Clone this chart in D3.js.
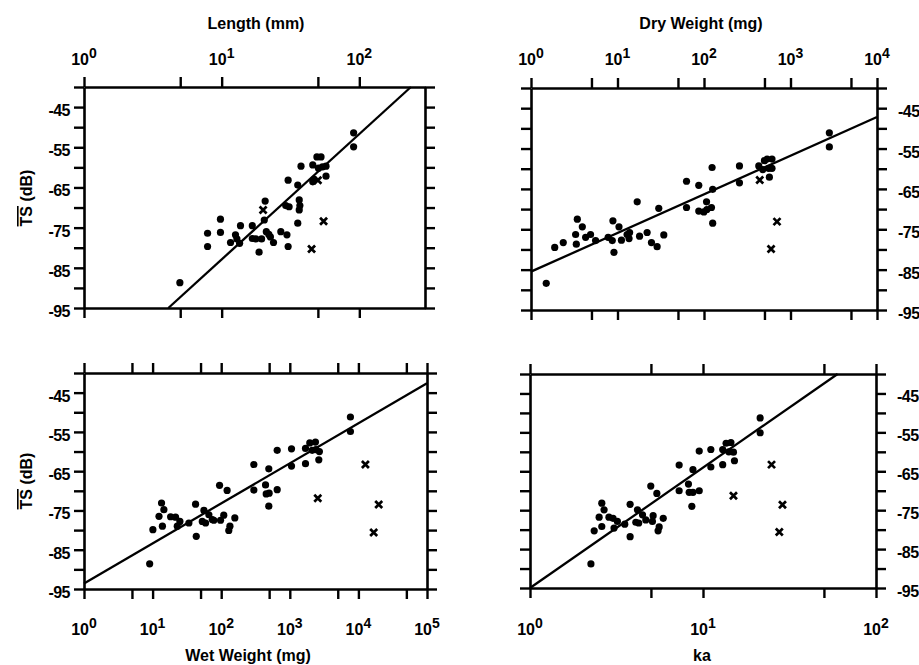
<!DOCTYPE html>
<html>
<head>
<meta charset="utf-8">
<style>
body { margin: 0; background: #fff; }
svg text { font-family: "Liberation Sans", Arial, sans-serif; font-weight: bold; fill: #000; }
</style>
</head>
<body>
<script src="https://d3js.org/d3.v7.min.js"></script>
<script>
// ---- data ----
// TS (dB) axis, shared by all four panels
var tsTicks = [-95, -90, -85, -80, -75, -70, -65, -60, -55, -50, -45, -40];
var tsLabels = [-95, -85, -75, -65, -55, -45];

// Length (mm)
var lengthTicks = [1, 5, 10, 50, 100];
var lengthLabels = [1, 10, 100];
var lengthX  = [4.97, 7.9, 7.9, 9.8, 9.8, 11.6, 12.6, 12.9, 13.7, 13.5, 16.7, 16.7, 17.7, 18.7, 19.5, 20.4, 20.7, 21.1, 22, 22.6, 23.8, 26.9, 29.2, 29.8, 30.4, 30.4, 30.9, 35.7, 35.7, 36.6, 36.6, 37, 37.7, 45.9, 45.9, 47, 49.2, 50.5, 52.7, 54, 57.3, 57.3, 90.9, 90.9];
var lengthTS = [-88.7, -76.4, -79.7, -72.9, -76.2, -78.7, -76.8, -77.8, -74.5, -78.9, -74.5, -77.7, -77.8, -81.1, -77.8, -73.1, -68.4, -76, -76.7, -77.3, -78.7, -76, -69.5, -76.8, -79.7, -63.2, -69.8, -73.9, -64.4, -68.1, -70.6, -69.5, -59.7, -63.6, -59.4, -63, -57.4, -60.2, -57.4, -59.9, -62.2, -59.7, -51.4, -54.9];
var lengthCrossX  = [20, 55, 45, 50];
var lengthCrossTS = [-70.6, -73.4, -80.3, -63.2];
var lengthFit = [[4.1, -95], [237, -40]];

// Dry weight (mg)
var dryTicks = [1, 5, 10, 50, 100, 500, 1000, 5000, 10000];
var dryLabels = [1, 10, 100, 1000, 10000];
var dryX  = [1.5, 1.88, 2.36, 3.34, 3.28, 3.43, 3.92, 4.28, 4.88, 5.58, 7.8, 8.7, 8.85, 9.1, 10.4, 11.1, 12.9, 13.8, 13.6, 16.9, 18, 22, 24.7, 28.7, 30, 34.3, 62.8, 62.8, 87, 87, 99.6, 107, 108, 122, 124, 126, 126, 257, 257, 430, 478, 500, 537, 560, 611, 611, 570, 2812, 2812];
var dryTS = [-88.4, -79.5, -78.3, -78.7, -76.3, -72.5, -74.4, -77, -76.3, -77.8, -77, -77.8, -72.9, -80.7, -74.4, -77.7, -76.3, -75.8, -77.3, -68.2, -76.7, -75.8, -78.3, -79.3, -69.8, -76.4, -63.1, -69.6, -64.1, -70.5, -70.7, -68.2, -70.1, -69.6, -59.7, -65.1, -73.5, -59.3, -63.5, -59.3, -60.2, -58, -57.6, -59.9, -57.6, -59.9, -62.1, -51.1, -54.6];
var dryCrossX  = [441, 596, 698];
var dryCrossTS = [-62.8, -79.9, -73.1];
var dryFit = [[1, -85.5], [10000, -47.2]];

// Wet weight (mg)
var wetTicks = [1, 5, 10, 50, 100, 500, 1000, 5000, 10000, 50000, 100000];
var wetLabels = [1, 10, 100, 1000, 10000, 100000];
var wetX  = [9.06, 10.1, 12.4, 13.5, 14.6, 13.9, 18.3, 21.6, 22.9, 25, 33.8, 42.3, 43.3, 53, 56, 59.2, 66.1, 74.1, 78, 94.6, 97.8, 109, 122, 129, 134, 158, 299, 299, 443, 453, 494, 500, 494, 655, 655, 1059, 1059, 1694, 1694, 1955, 2120, 2366, 2400, 2647, 2700, 7650, 7650];
var wetTS = [-88.6, -79.9, -76.5, -73.1, -74.8, -79, -76.6, -76.7, -79, -77.8, -78.2, -73.4, -81.6, -77.8, -75, -78.2, -76.1, -77.3, -77.5, -68.6, -77.5, -76.2, -69.9, -80.1, -79, -76.9, -63.3, -69.8, -68.5, -70.8, -73.9, -70.6, -64.4, -59.7, -69.7, -59.3, -63.7, -63.1, -59.2, -57.8, -59.7, -57.6, -59.5, -62.1, -60, -51.2, -54.9];
var wetCrossX  = [2557, 12650, 19770, 16700];
var wetCrossTS = [-71.9, -63.3, -73.5, -80.6];
var wetFit = [[1, -93.6], [100000, -42.6]];

// ka
var kaTicks = [1, 5, 10, 50, 100];
var kaLabels = [1, 10, 100];
var kaX  = [2.25, 2.35, 2.51, 2.6, 2.68, 2.6, 2.86, 3.02, 3.06, 3.2, 3.53, 3.79, 3.79, 4.09, 4.18, 4.25, 4.47, 4.67, 4.99, 5.1, 5.15, 5.41, 5.5, 5.58, 5.89, 7.28, 7.28, 8.24, 8.32, 8.62, 8.75, 8.75, 9.51, 9.51, 11.1, 11.1, 13, 13, 13.6, 14.1, 14.5, 15, 15.2, 21.4, 21.4];
var kaTS = [-88.8, -80.3, -76.8, -73.2, -74.9, -79.2, -76.8, -77.1, -79.6, -77.9, -78.6, -73.5, -81.8, -78.1, -74.9, -78.3, -76.2, -77.5, -68.8, -77.9, -76.4, -70.7, -80.3, -79.3, -77.1, -63.4, -70, -68.3, -70.4, -74, -70.4, -64.6, -59.8, -70, -59.4, -63.9, -63.3, -59.4, -57.8, -60, -57.6, -60.1, -62.3, -51.3, -55.1];
var kaCrossX  = [15, 24.9, 28.8, 27.6];
var kaCrossTS = [-71.3, -63.3, -73.6, -80.6];
var kaFit = [[1, -95], [60, -40]];

// ---- panel layout ----
var panels = [
  { left: 84, right: 425, top: 87, bottom: 308, domain: [1, 300], ticks: lengthTicks, labels: lengthLabels,
    labelSide: "top", title: "Length (mm)", titleX: 256, ySide: "left", yTitle: 198,
    x: lengthX, ts: lengthTS, cx: lengthCrossX, cts: lengthCrossTS, fit: lengthFit },
  { left: 531, right: 877, top: 88, bottom: 310, domain: [1, 10000], ticks: dryTicks, labels: dryLabels,
    labelSide: "top", title: "Dry Weight (mg)", titleX: 701, ySide: "right",
    x: dryX, ts: dryTS, cx: dryCrossX, cts: dryCrossTS, fit: dryFit },
  { left: 84, right: 427, top: 373, bottom: 589, domain: [1, 100000], ticks: wetTicks, labels: wetLabels,
    labelSide: "bottom", title: "Wet Weight (mg)", titleX: 248, ySide: "left", yTitle: 481,
    x: wetX, ts: wetTS, cx: wetCrossX, cts: wetCrossTS, fit: wetFit },
  { left: 530, right: 876, top: 374, bottom: 588, domain: [1, 100], ticks: kaTicks, labels: kaLabels,
    labelSide: "bottom", title: "ka", titleX: 702, ySide: "right",
    x: kaX, ts: kaTS, cx: kaCrossX, cts: kaCrossTS, fit: kaFit }
];

var svg = d3.select("body").append("svg")
    .attr("width", 919)
    .attr("height", 665);

panels.forEach(function (p) {
  var x = d3.scaleLog().domain(p.domain).range([p.left, p.right]);
  var y = d3.scaleLinear().domain([-95, -40]).range([p.bottom, p.top]);

  // four axes, ticks pointing outwards, no labels
  var axes = [
    [d3.axisLeft(y).tickValues(tsTicks), "translate(" + p.left + ",0)"],
    [d3.axisRight(y).tickValues(tsTicks), "translate(" + p.right + ",0)"],
    [d3.axisTop(x).tickValues(p.ticks), "translate(0," + p.top + ")"],
    [d3.axisBottom(x).tickValues(p.ticks), "translate(0," + p.bottom + ")"]
  ];
  axes.forEach(function (a) {
    var g = svg.append("g").attr("transform", a[1])
      .call(a[0].tickSize(10).tickSizeOuter(0).tickFormat(""));
    g.select(".domain").attr("stroke", "#000").attr("stroke-width", 2.6);
    g.selectAll(".tick line").attr("stroke", "#000").attr("stroke-width", 2.4);
  });

  // TS tick labels
  svg.selectAll(null).data(tsLabels).enter().append("text")
    .attr("x", p.ySide === "left" ? p.left - 14 : p.right + 21)
    .attr("y", function (d) { return y(d) + 9; })
    .attr("text-anchor", p.ySide === "left" ? "end" : "start")
    .style("font-size", "16px")
    .style("letter-spacing", "-0.5px")
    .text(function (d) { return d; });

  // power-of-ten labels
  var ly = p.labelSide === "top" ? 65 : 635;
  svg.selectAll(null).data(p.labels).enter().append("text")
    .attr("x", function (d) { return x(d); })
    .attr("y", ly)
    .attr("text-anchor", "middle")
    .style("font-size", "16px")
    .each(function (d) {
      var t = d3.select(this);
      t.append("tspan").text("10");
      t.append("tspan").attr("dy", -7).style("font-size", "14px")
        .text(Math.round(Math.log10(d)));
    });

  // axis title
  svg.append("text")
    .attr("x", p.titleX)
    .attr("y", p.labelSide === "top" ? 29 : 661)
    .attr("text-anchor", "middle")
    .style("font-size", "16px")
    .text(p.title);

  if (p.ySide === "left") {
    var yt = svg.append("text")
      .attr("transform", "translate(32," + p.yTitle + ") rotate(-90)")
      .attr("text-anchor", "middle")
      .style("font-size", "16px");
    yt.append("tspan").style("text-decoration", "overline").text("TS");
    yt.append("tspan").text(" (dB)");
  }

  // regression line
  svg.append("path")
    .datum(p.fit)
    .attr("fill", "none")
    .attr("stroke", "#000")
    .attr("stroke-width", 2.3)
    .attr("d", d3.line().x(function (d) { return x(d[0]); }).y(function (d) { return y(d[1]); }));

  // dots
  svg.selectAll(null).data(d3.range(p.x.length)).enter().append("circle")
    .attr("cx", function (i) { return x(p.x[i]); })
    .attr("cy", function (i) { return y(p.ts[i]); })
    .attr("r", 3.6)
    .attr("fill", "#000");

  // crosses
  svg.selectAll(null).data(d3.range(p.cx.length)).enter().append("path")
    .attr("transform", function (i) { return "translate(" + x(p.cx[i]) + "," + y(p.cts[i]) + ")"; })
    .attr("d", "M-3.5,-3.5L3.5,3.5M-3.5,3.5L3.5,-3.5")
    .attr("stroke", "#000")
    .attr("stroke-width", 2.7);
});
</script>
</body>
</html>
